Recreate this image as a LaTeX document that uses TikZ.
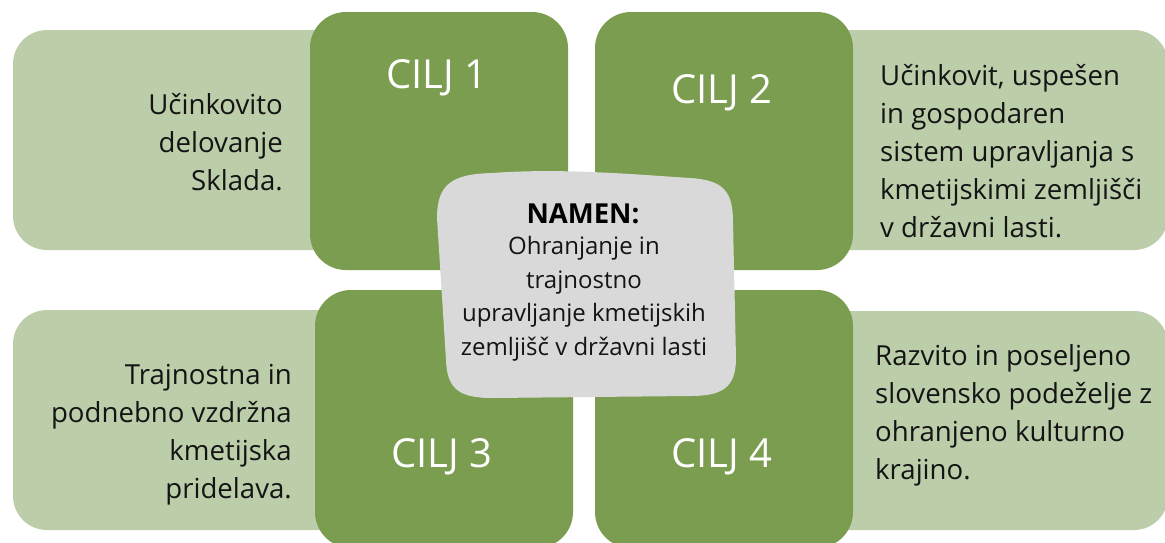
\documentclass[tikz,border=0pt]{standalone}
\usepackage{fontspec}
\setmainfont{Open Sans}
\definecolor{goaldark}{HTML}{7A9D50}
\definecolor{goallight}{HTML}{BBCEA9}
\definecolor{aimgray}{HTML}{D9D9D9}
\definecolor{inktext}{HTML}{141414}
\tikzset{
  lightbox/.style={fill=goallight, draw=none, rounded corners=34pt},
  darkbox/.style={fill=goaldark, draw=none, rounded corners=36pt},
  goaltitle/.style={text=white, font=\fontsize{40}{48}\selectfont, inner sep=0pt},
  goaltext/.style={text=inktext, font=\fontsize{27.6}{38}\selectfont, inner sep=0pt},
  aimtitle/.style={text=black, font=\fontsize{27.5}{32}\selectfont\bfseries, inner sep=0pt},
  aimtext/.style={text=inktext, font=\fontsize{24}{33.5}\selectfont, inner sep=0pt, align=center}
}
\begin{document}
\begin{tikzpicture}[x=1pt, y=-1pt]
\useasboundingbox (0,0) rectangle (1165,542);
\clip (0,0) rectangle (1165,542);
\fill[white] (0,0) rectangle (1165,542);

% light boxes carrying the goal descriptions
\path[lightbox] (13,30) rectangle (360,250);
\path[lightbox] (800,30) rectangle (1168,250);
\path[lightbox] (13,310) rectangle (360,530);
\path[lightbox] (800,311) rectangle (1168,530);

% dark goal squares
\path[darkbox] (310,12) rectangle (568,270);
\path[darkbox] (595,12) rectangle (853,270);
\path[darkbox] (315,290) rectangle (573,548);
\path[darkbox] (595,290) rectangle (853,548);

% central aim panel with its slightly uneven outline
\fill[aimgray] (437,218) .. controls (437,184) and (452,174) .. (492,173)
  .. controls (560,168) and (630,174) .. (690,178)
  .. controls (724,180) and (733,192) .. (733,222)
  -- (736,358) .. controls (736,388) and (722,396) .. (690,396)
  -- (492,398) .. controls (458,398) and (447,388) .. (446,360)
  -- cycle;

% goal titles
\node[goaltitle] (c1) at (437,78) {CILJ 1};
\node[goaltitle] (c2) at (722,93) {CILJ 2};
\node[goaltitle] (c3) at (442,457) {CILJ 3};
\node[goaltitle] (c4) at (722,457) {CILJ 4};

% goal descriptions
\node[goaltext, align=right, anchor=east] (t1) at (283,142)
  {Učinkovito\\delovanje\\Sklada.};
\node[goaltext, align=left, anchor=west] (t2) at (880,151)
  {Učinkovit, uspešen\\in gospodaren\\sistem upravljanja s\\kmetijskimi zemljišči\\v državni lasti.};
\node[goaltext, align=right, anchor=east] (t3) at (292,435)
  {Trajnostna in\\podnebno vzdržna\\kmetijska\\pridelava.};
\node[goaltext, align=left, anchor=west] (t4) at (875,415)
  {Razvito in poseljeno\\slovensko podeželje z\\ohranjeno kulturno\\krajino.};

% aim
\node[aimtitle] (aimhead) at (583,214) {NAMEN:};
\node[aimtext] (aimbody) at (584,299)
  {Ohranjanje in\\trajnostno\\upravljanje kmetijskih\\zemljišč v državni lasti};
\end{tikzpicture}
\end{document}
